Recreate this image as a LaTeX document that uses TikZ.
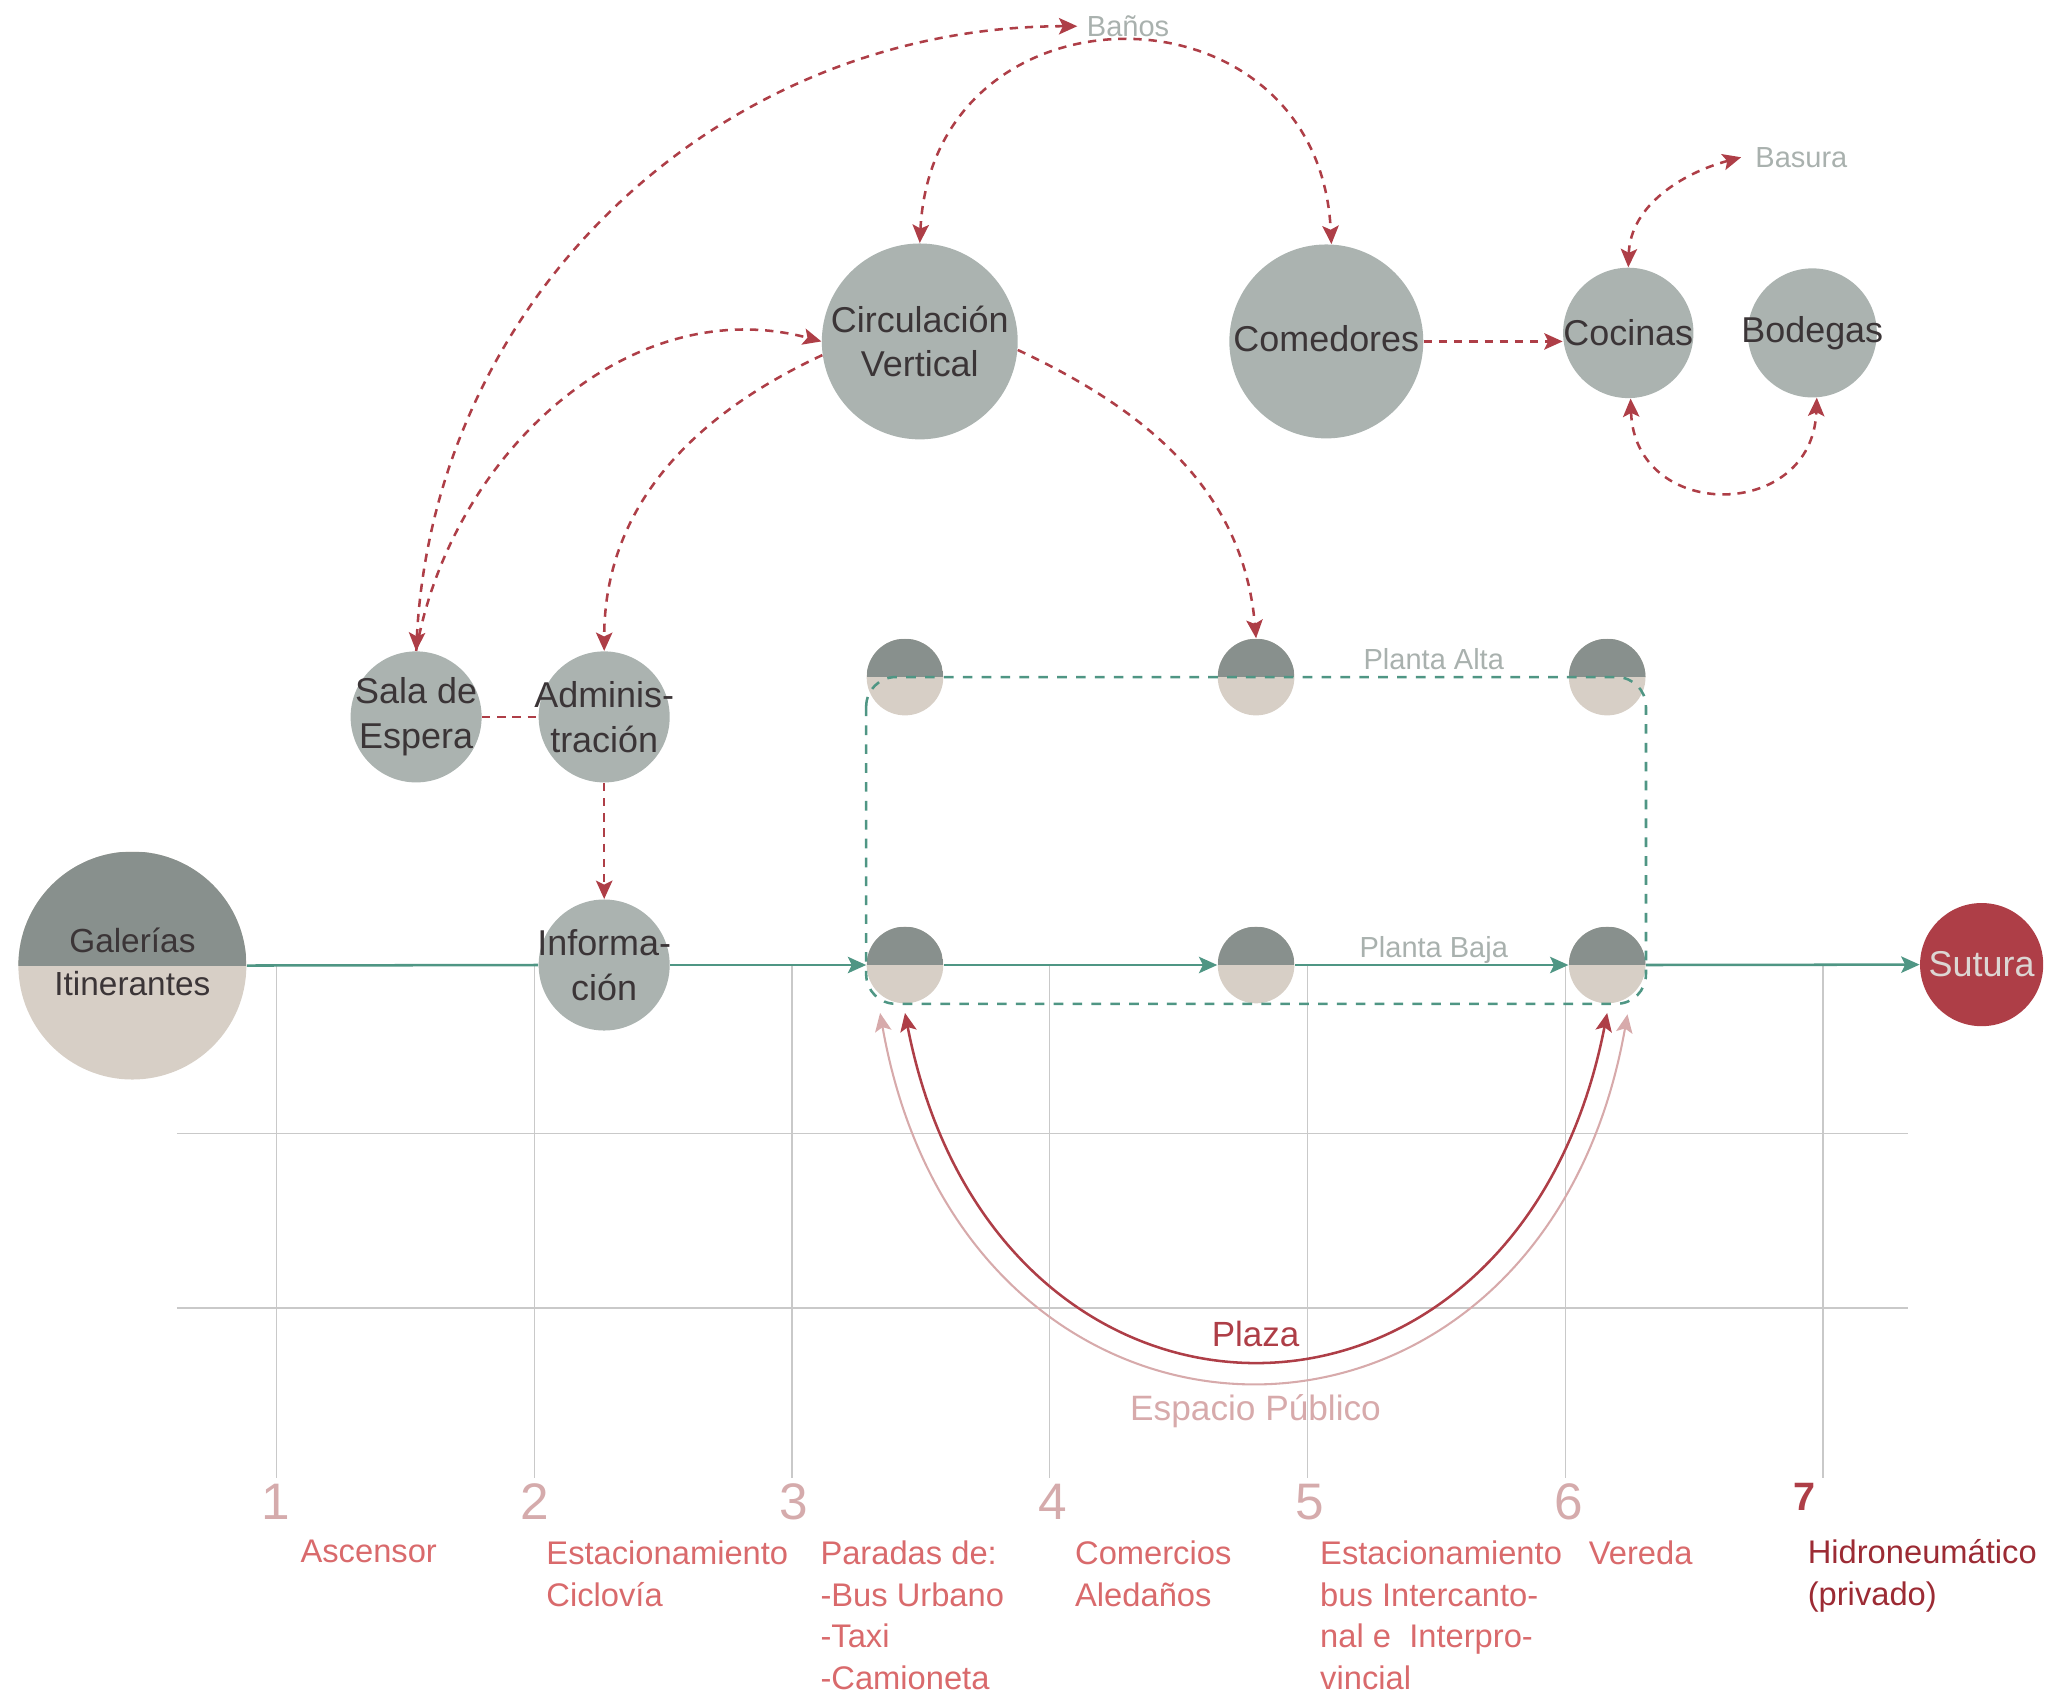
\documentclass[tikz,border=0pt]{standalone}
\usepackage{fontspec}
\setmainfont{Liberation Sans}
\usetikzlibrary{arrows.meta}

\definecolor{nodegray}{HTML}{ABB3B0}
\definecolor{darkhalf}{HTML}{88908D}
\definecolor{beige}{HTML}{D7CFC6}
\definecolor{flowgreen}{HTML}{4F9684}
\definecolor{linkred}{HTML}{AE3E47}
\definecolor{nodetext}{HTML}{3B3537}
\definecolor{labelgray}{HTML}{A9B1AE}
\definecolor{numpink}{HTML}{D5ABAC}
\definecolor{descred}{HTML}{D96A6C}
\definecolor{hidrored}{HTML}{9C2B34}
\definecolor{pinkarc}{HTML}{D7AAAB}
\definecolor{gridgray}{HTML}{C9C9C9}
\definecolor{suturatext}{HTML}{DCD6D3}

\begin{document}
\begin{tikzpicture}[x=0.02cm, y=0.02cm,
    >={Stealth[length=0.28cm, width=0.25cm, inset=0.06cm]},
    room/.style={circle, fill=nodegray, inner sep=0pt, minimum size=#1},
    roomtext/.style={align=center, text=nodetext, font=\fontsize{15.6}{19.5}\selectfont},
    halfnode/.style={circle, fill=beige, inner sep=0pt, minimum size=#1,
        path picture={\fill[darkhalf] (path picture bounding box.north west) rectangle (path picture bounding box.east);}},
    flowline/.style={draw=flowgreen, line width=1.1pt},
    redlink/.style={draw=linkred, line width=1.1pt, dash pattern=on 3.6pt off 3pt},
    gridline/.style={draw=gridgray, line width=0.6pt},
    graylbl/.style={text=labelgray, inner sep=0pt, font=\fontsize{12.6}{15}\selectfont},
    numlbl/.style={text=numpink, inner sep=0pt, font=\fontsize{22.3}{26}\selectfont},
    desc/.style={anchor=north west, inner sep=0pt, align=left, text=descred, font=\fontsize{14.2}{18.2}\selectfont}]

    \useasboundingbox (0,0) rectangle (1568,-1296);

    % grid
    \foreach \gx in {211,407.6,604.3,801,997.7,1194.4,1391}
        \draw[gridline] (\gx,-736) -- (\gx,-1128);
    \draw[gridline] (135,-865) -- (1456,-865);
    \draw[gridline] (135,-998) -- (1456,-998);

    % main line nodes
    \node[halfnode=3.48cm, label={[roomtext, yshift=0.06cm, font=\fontsize{14.5}{18.8}\selectfont]center:Galerías\\Itinerantes}] (gal) at (101,-736.7) {};
    \node[room=2cm, label={[roomtext]center:Informa-\\ción}] (info) at (461,-736.3) {};
    \node[halfnode=1.17cm] (pb1) at (690.5,-736.3) {};
    \node[halfnode=1.17cm] (pb2) at (958.4,-736.3) {};
    \node[halfnode=1.17cm] (pb3) at (1226.3,-736.3) {};
    \node[circle, fill=linkred, inner sep=0pt, minimum size=1.88cm, text=suturatext, font=\fontsize{15.6}{19.5}\selectfont] (sut) at (1512,-736) {Sutura};

    % upper floor
    \node[halfnode=1.17cm] (pa1) at (690.5,-516.6) {};
    \node[halfnode=1.17cm] (pa2) at (958.4,-516.6) {};
    \node[halfnode=1.17cm] (pa3) at (1226.3,-516.6) {};

    % rooms
    \node[room=2cm, label={[roomtext]center:Sala de\\Espera}] (sala) at (317.5,-547) {};
    \node[room=2cm, label={[roomtext]center:Adminis-\\tración}] (adm) at (461,-547) {};
    \node[room=2.99cm, label={[roomtext]center:Circulación\\Vertical}] (circ) at (701.8,-260.5) {};
    \node[room=2.96cm, label={[roomtext, yshift=0.04cm]center:Comedores}] (com) at (1012,-260.5) {};
    \node[room=1.99cm, label={[roomtext]center:Cocinas}] (coc) at (1242.4,-254) {};
    \node[room=1.97cm, label={[roomtext]center:Bodegas}] (bod) at (1382.8,-254) {};

    % gray labels
    \node[graylbl, anchor=west, inner xsep=4pt] (bano) at (822,-20) {Baños};
    \node[graylbl, anchor=west, inner xsep=6pt] (bas) at (1328.5,-120) {Basura};
    \node[graylbl] (alta) at (1094,-503) {Planta Alta};
    \node[graylbl] (baja) at (1094,-725) {Planta Baja};

    % flow
    \draw[flowline] (gal.east) -- (info.west);
    \draw[flowline, ->] (info.east) -- (pb1.west);
    \draw[flowline, ->] (pb1.east) -- (pb2.west);
    \draw[flowline, ->] (pb2.east) -- (pb3.west);
    \draw[flowline, ->] (pb3.east) -- (sut.west);

    % dashed links
    \draw[redlink, <->] (sala.north) to[out=87, in=180] (bano.west);
    \draw[redlink, ->] (sala.north) to[out=80, in=165] (circ.west);
    \draw[redlink, ->] (circ.188) to[out=205, in=90] (adm.north);
    \draw[redlink, ->] (circ.-5) to[out=-25, in=95] (pa2.north);
    \draw[redlink, <->] (circ.north) .. controls (712,19) and (1006,19) .. (com.87);
    \draw[redlink, ->] (com.east) -- (coc.west |- com.east);
    \draw[redlink, <->] (coc.north) to[out=88, in=195] (bas.west);
    \draw[redlink, <->] (coc.-88) to[out=-88, in=-92, looseness=1.7] (bod.-86);
    \draw[redlink] (sala.east) -- (adm.west);
    \draw[redlink, ->] (adm.south) -- (info.north);

    % floors
    \draw[flowline, dash pattern=on 4.2pt off 4pt, rounded corners=0.45cm] (pa1.west |- pa1.center) rectangle (pb3.east |- pb3.south);

    % plaza
    \draw[draw=pinkarc, line width=0.9pt, <->] ([shift={(-0.38cm,-0.14cm)}]pb1.south) to[out=-80, in=-100, looseness=1.7] ([shift={(0.31cm,-0.16cm)}]pb3.south);
    \draw[draw=linkred, line width=1.1pt, <->] ([yshift=-0.14cm]pb1.south) to[out=-79, in=-101, looseness=1.72] ([yshift=-0.14cm]pb3.south);
    \node[text=linkred, font=\fontsize{15.2}{18}\selectfont] (plaza) at (958,-1018) {Plaza};
    \node[text=pinkarc, font=\fontsize{15.3}{18}\selectfont] (esp) at (958,-1077) {Espacio Público};

    % numbers
    \foreach \n/\gx in {1/210.6, 2/408, 3/606, 4/803, 5/999.5, 6/1197}
        \node[numlbl] (num\n) at (\gx,-1146) {\n};
    \node[numlbl, text=linkred, font=\bfseries\fontsize{17.2}{20}\selectfont] (num7) at (1376.5,-1142) {7};

    % descriptions
    \node[desc] (d1) at (229,-1175) {Ascensor};
    \node[desc] (d2) at (416.6,-1175) {Estacionamiento\\Ciclovía};
    \node[desc] (d3) at (625.7,-1175) {Paradas de:\\-Bus Urbano\\-Taxi\\-Camioneta};
    \node[desc] (d4) at (820,-1175) {Comercios\\Aledaños};
    \node[desc] (d5) at (1007,-1175) {Estacionamiento\\bus Intercanto-\\nal e\ \ Interpro-\\vincial};
    \node[desc] (d6) at (1212,-1175) {Vereda};
    \node[desc, text=hidrored] (d7) at (1379,-1174) {Hidroneumático\\(privado)};

\end{tikzpicture}
\end{document}
